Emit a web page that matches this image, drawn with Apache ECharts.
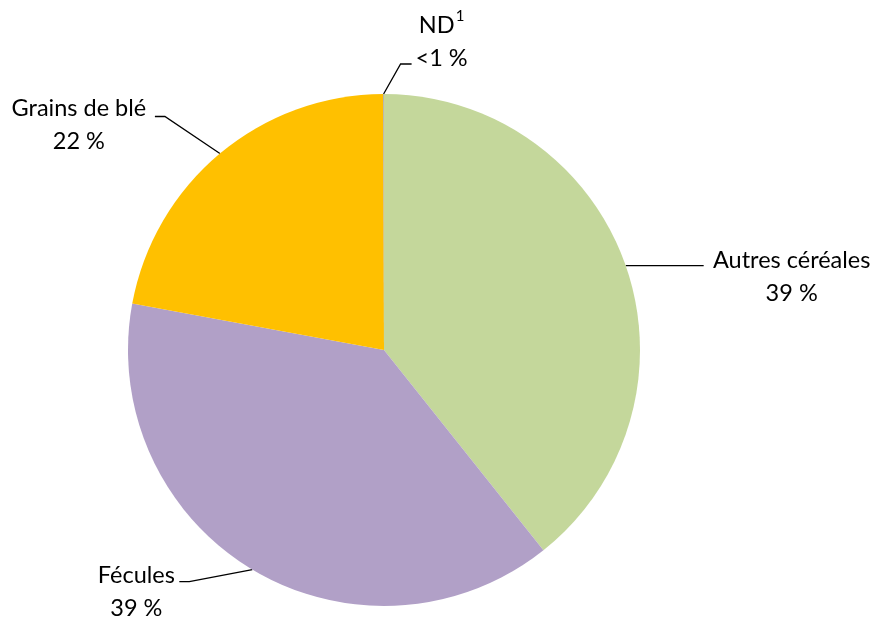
<!DOCTYPE html>
<html>
<head>
<meta charset="utf-8">
<script src="https://cdn.jsdelivr.net/npm/echarts@6/dist/echarts.min.js"></script>
<style>
html,body{margin:0;padding:0;background:#fff;}
#c{width:880px;height:623px;}
</style>
</head>
<body>
<div id="c"></div>
<script>
// Data
var categories = ['Autres céréales', 'Fécules', 'Grains de blé', 'ND'];
var values = [39.3, 38.6, 22.05, 0.05];
var valueLabels = ['39 %', '39 %', '22 %', '<1 %'];
var superscripts = ['', '', '', '1'];
var colors = ['#C4D79B', '#B1A0C7', '#FFC000', '#A6A6A6'];

// Label layout (offsets relative to the leader line start on the arc)
var layouts = [
  { line: [[78, 0]], label: [166, 11] },
  { line: [[-63, 12], [-73, 12]], label: [-116, 22] },
  { line: [[-55, -37], [-65, -37]], label: [-141, -29] },
  { line: [[17, -30], [28, -30]], label: [58, -52] }
];

var chart = echarts.init(document.getElementById('c'), null, { renderer: 'canvas' });

var data = categories.map(function (c, i) {
  return {
    name: c,
    value: values[i],
    itemStyle: { color: colors[i] }
  };
});

chart.setOption({
  animation: false,
  backgroundColor: '#ffffff',
  series: [{
    type: 'pie',
    center: [384, 350],
    radius: [0, 256],
    startAngle: 90,
    clockwise: true,
    avoidLabelOverlap: false,
    emphasis: { disabled: true },
    itemStyle: { borderWidth: 0 },
    data: data,
    label: {
      show: true,
      position: 'outside',
      color: '#000',
      fontFamily: 'Lato',
      fontSize: 23.5,
      lineHeight: 33,
      align: 'center',
      formatter: function (p) {
        var i = p.dataIndex;
        var first = categories[i] + (superscripts[i] ? '{sup|' + superscripts[i] + '}' : '');
        return first + '\n' + valueLabels[i];
      },
      rich: {
        sup: { fontSize: 15, fontFamily: 'Lato', color: '#000', verticalAlign: 'top', lineHeight: 26, padding: [0, 0, 0, 1] }
      }
    },
    labelLine: {
      show: true,
      length: 10,
      length2: 10,
      smooth: false,
      lineStyle: { color: '#000', width: 1.3 }
    },
    labelLayout: function (params) {
      var i = params.dataIndex;
      var L = layouts[i];
      var s = params.labelLinePoints ? params.labelLinePoints[0] : [0, 0];
      var pts = [[s[0], s[1]]];
      L.line.forEach(function (d) { pts.push([s[0] + d[0], s[1] + d[1]]); });
      if (pts.length === 2) { pts.push(pts[1].slice()); }
      return {
        x: s[0] + L.label[0],
        y: s[1] + L.label[1],
        align: 'center',
        verticalAlign: 'middle',
        labelLinePoints: pts
      };
    }
  }]
});
</script>
</body>
</html>
